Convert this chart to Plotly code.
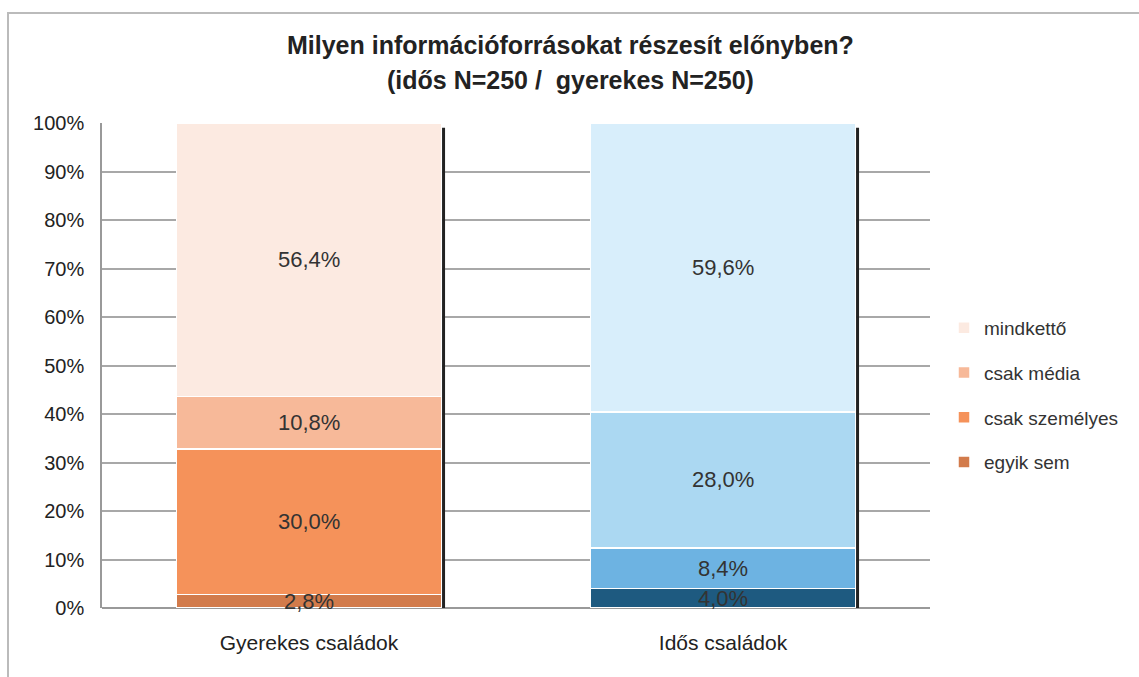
import plotly.graph_objects as go

# Survey shares (%) per household type, stacked bottom to top
categories = ["Gyerekes családok", "Idős családok"]
series_names = ["egyik sem", "csak személyes", "csak média", "mindkettő"]
egyik_sem = [2.8, 4.0]
csak_szemelyes = [30.0, 8.4]
csak_media = [10.8, 28.0]
mindketto = [56.4, 59.6]
y_ticks = [0, 10, 20, 30, 40, 50, 60, 70, 80, 90, 100]

series_values = [egyik_sem, csak_szemelyes, csak_media, mindketto]

# colours per stacked segment: [orange for Gyerekes, blue for Idős]
seg_colors = [
    ["#D27B4B", "#1E5A80"],
    ["#F5925A", "#6DB3E2"],
    ["#F7B999", "#ABD8F2"],
    ["#FCEAE1", "#D8EEFB"],
]

W, H = 1139, 677
L, R, T, B = 102, 930, 123, 608
FONT = "Liberation Sans, Arial, sans-serif"
TXT = "#333333"
BAR_W = 0.64

fig = go.Figure()
n_series = len(series_names)
for i, (name, vals, cols) in enumerate(zip(series_names, series_values, seg_colors)):
    fig.add_trace(go.Bar(
        x=categories, y=vals, name=name, width=BAR_W,
        marker=dict(color=cols, line=dict(color="white", width=1.5)),
        legendgroup=name, legendrank=n_series - i, hoverinfo="skip",
    ))

# value labels centred on each segment
annotations = []
for ci, cat in enumerate(categories):
    base = 0.0
    for vals in series_values:
        v = vals[ci]
        annotations.append(dict(
            x=cat, y=base + v / 2, xref="x", yref="y",
            text=f"{v:.1f}%".replace(".", ","), showarrow=False,
            font=dict(family=FONT, size=22, color=TXT),
        ))
        base += v

# chart title, two centred lines
pw, ph = R - L, B - T
title_lines = ["Milyen információforrásokat részesít előnyben?",
               "(idős N=250 /  gyerekes N=250)"]
for line, ypx in zip(title_lines, [45, 80]):
    annotations.append(dict(
        x=(570 - L) / pw, y=(B - ypx) / ph, xref="paper", yref="paper",
        text=f"<b>{line}</b>", showarrow=False, xanchor="center", yanchor="middle",
        font=dict(family=FONT, size=25, color="#222222"),
    ))

# dark edge on the right side of each bar
shapes = []
for ci, cat in enumerate(categories):
    total = sum(vals[ci] for vals in series_values)
    shapes.append(dict(
        type="line", xref="x", yref="y",
        x0=ci + BAR_W / 2 + 0.005, x1=ci + BAR_W / 2 + 0.005,
        y0=0, y1=total - 1, line=dict(color="#222222", width=3),
    ))

# thin frame around the chart area
shapes.append(dict(
    type="rect", xref="paper", yref="paper",
    x0=(8 - L) / pw, x1=(W + 10 - L) / pw,
    y0=(B - (H + 10)) / ph, y1=(B - 13) / ph,
    line=dict(color="#BBBBBB", width=2), fillcolor="rgba(0,0,0,0)", layer="below",
))

fig.update_layout(
    width=W, height=H,
    margin=dict(l=L, r=W - R, t=T, b=H - B, pad=0, autoexpand=False),
    paper_bgcolor="white", plot_bgcolor="white",
    barmode="stack",
    font=dict(family=FONT, size=20, color=TXT),
    showlegend=True,
    legend=dict(
        x=(944 - L) / pw, xanchor="left", y=(B - 309) / ph, yanchor="top",
        traceorder="grouped", tracegroupgap=17,
        font=dict(family=FONT, size=19, color=TXT),
        itemwidth=30, bgcolor="rgba(0,0,0,0)",
    ),
    xaxis=dict(
        showgrid=False, showline=False, ticks="",
        tickfont=dict(family=FONT, size=21, color="#222222"),
        ticklabelstandoff=20,
    ),
    yaxis=dict(
        range=[0, 100], tickvals=y_ticks,
        ticktext=[f"{t}%" for t in y_ticks],
        showgrid=True, gridcolor="#A8A8A8", gridwidth=1.5,
        showline=True, linecolor="#999999", linewidth=1.5,
        zeroline=True, zerolinecolor="#999999", zerolinewidth=1.5,
        ticks="", ticklabelstandoff=12,
        tickfont=dict(family=FONT, size=20, color="#222222"),
    ),
    annotations=annotations,
    shapes=shapes,
)

fig.write_html("out.html")
